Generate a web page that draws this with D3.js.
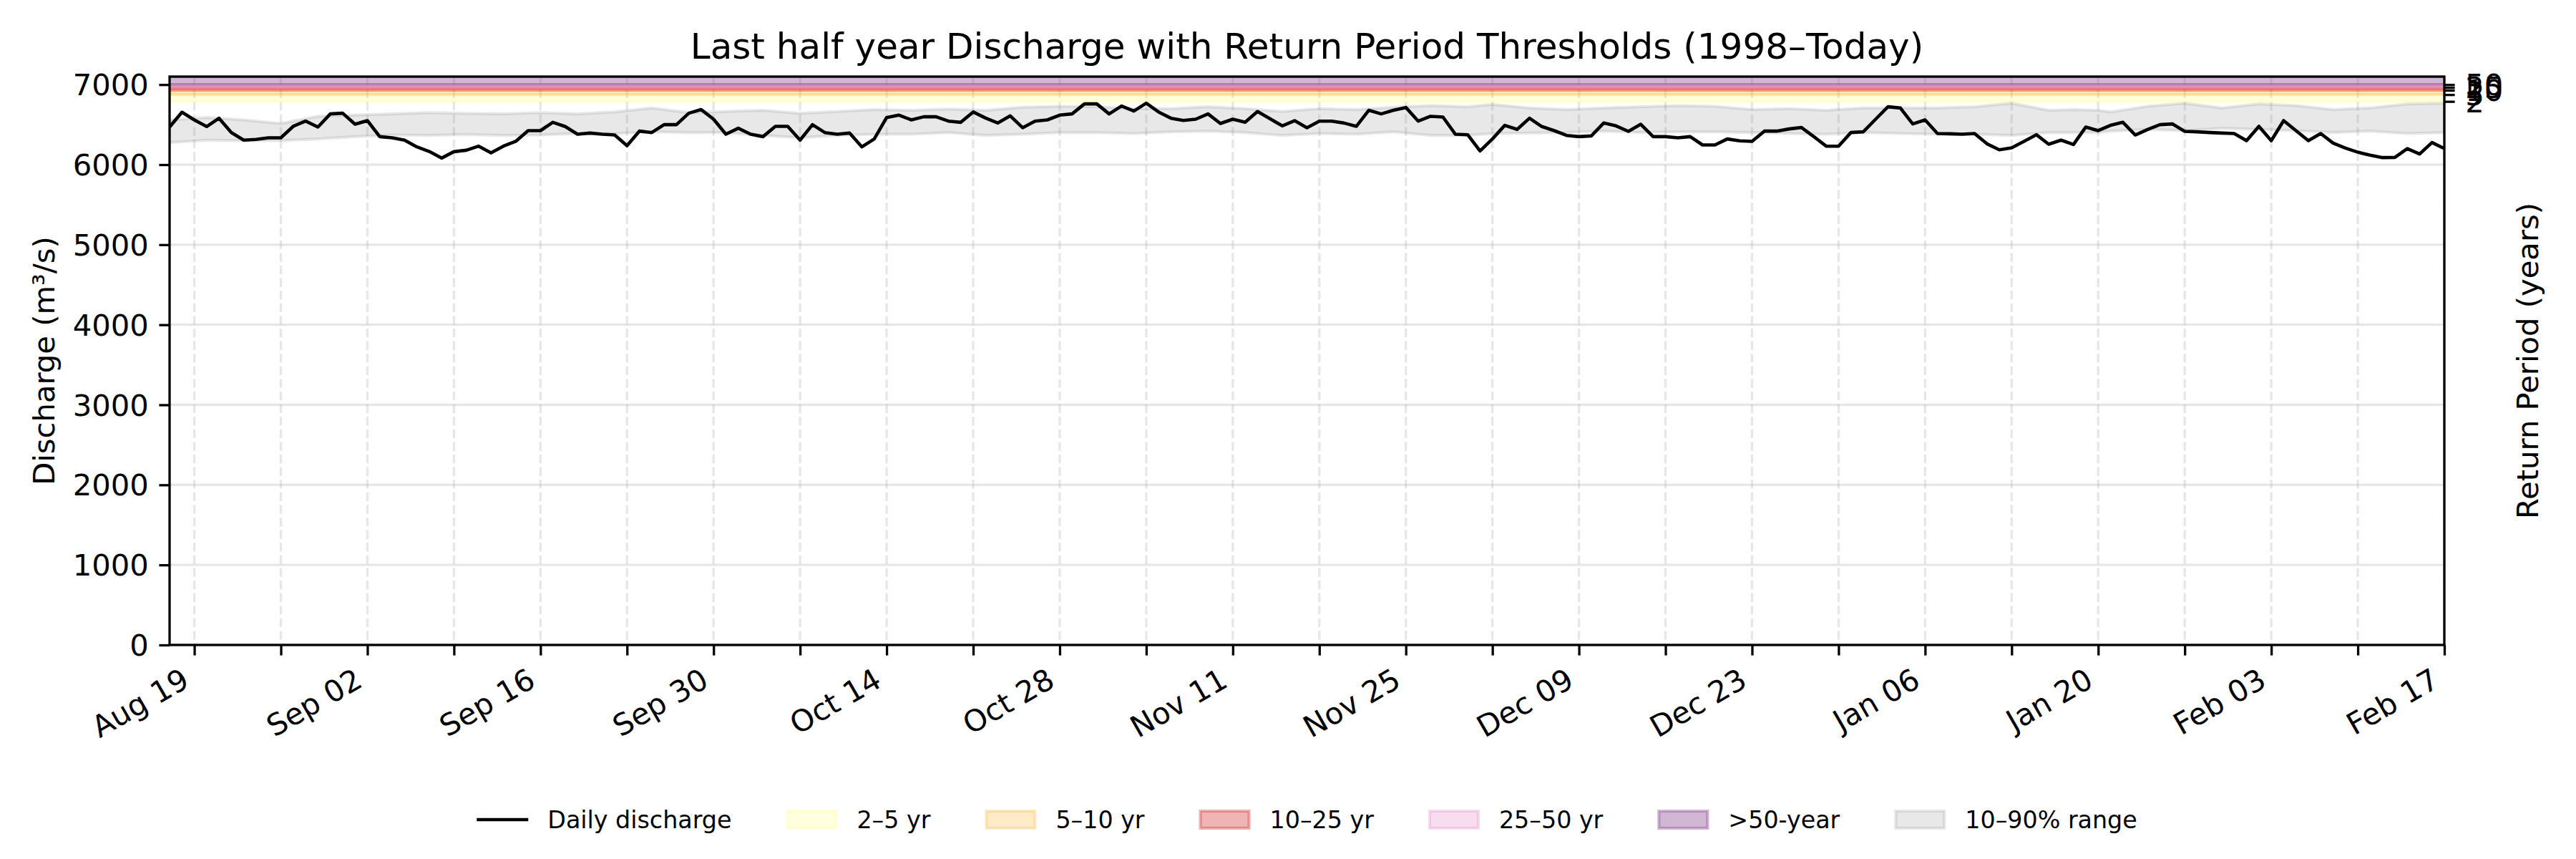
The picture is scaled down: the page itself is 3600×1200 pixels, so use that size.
<!DOCTYPE html>
<html>
<head>
<meta charset="utf-8">
<script src="https://cdn.jsdelivr.net/npm/d3@7"></script>
<style>
  body { margin: 0; background: #fff; }
  text { font-family: "DejaVu Sans", sans-serif; fill: #000; }
</style>
</head>
<body>
<svg id="chart" width="3600" height="1200"></svg>
<script>
//----------------
// Data
//----------------

const startDate = "2024-08-17";
const endDate = "2025-02-17";

// daily discharge, one value per day from startDate to endDate
const discharge = [
  6470, 6655, 6559, 6476, 6580, 6401, 6306, 6315, 6336, 6336, 6479, 6544, 6470, 6634, 6643, 6505, 6550,
  6350, 6336, 6306, 6222, 6165, 6082, 6162, 6180, 6231, 6147, 6231, 6291, 6425, 6425, 6529, 6476, 6380,
  6395, 6380, 6371, 6237, 6419, 6401, 6500, 6500, 6643, 6688, 6568, 6380, 6455, 6380, 6350, 6479, 6479,
  6306, 6500, 6401, 6380, 6395, 6222, 6321, 6589, 6619, 6559, 6598, 6598, 6544, 6529, 6658, 6583, 6520,
  6610, 6461, 6544, 6559, 6619, 6634, 6759, 6759, 6634, 6732, 6670, 6768, 6658, 6580, 6553, 6568, 6634,
  6514, 6568, 6529, 6664, 6574, 6485, 6550, 6461, 6544, 6544, 6520, 6479, 6679, 6634, 6679, 6714, 6544,
  6604, 6595, 6380, 6374, 6171, 6321, 6491, 6440, 6580, 6476, 6425, 6365, 6350, 6359, 6520, 6485, 6416,
  6505, 6350, 6350, 6336, 6350, 6246, 6246, 6321, 6297, 6291, 6419, 6419, 6446, 6464, 6350, 6231, 6231,
  6401, 6410, 6568, 6723, 6708, 6509, 6559, 6389, 6386, 6380, 6389, 6261, 6186, 6210, 6291, 6374, 6255,
  6306, 6252, 6470, 6425, 6491, 6529, 6371, 6440, 6500, 6509, 6416, 6410, 6401, 6395, 6389, 6300, 6479,
  6300, 6550, 6425, 6300, 6389, 6270, 6207, 6156, 6118, 6088, 6091, 6201, 6133, 6276, 6201
];

// 10-90% climatological range
const bandDates = [
  "2024-08-17", "2024-08-20", "2024-08-23", "2024-08-26", "2024-08-29", "2024-09-01", "2024-09-04",
  "2024-09-07", "2024-09-10", "2024-09-13", "2024-09-16", "2024-09-19", "2024-09-22", "2024-09-25",
  "2024-09-28", "2024-10-01", "2024-10-04", "2024-10-07", "2024-10-10", "2024-10-13", "2024-10-16",
  "2024-10-19", "2024-10-22", "2024-10-25", "2024-10-28", "2024-10-31", "2024-11-03", "2024-11-06",
  "2024-11-09", "2024-11-12", "2024-11-15", "2024-11-18", "2024-11-21", "2024-11-24", "2024-11-27",
  "2024-11-30", "2024-12-02", "2024-12-05", "2024-12-08", "2024-12-11", "2024-12-14", "2024-12-17",
  "2024-12-20", "2024-12-23", "2024-12-26", "2024-12-29", "2025-01-01", "2025-01-04", "2025-01-07",
  "2025-01-10", "2025-01-13", "2025-01-16", "2025-01-18", "2025-01-20", "2025-01-21", "2025-01-24",
  "2025-01-27", "2025-01-30", "2025-02-02", "2025-02-05", "2025-02-08", "2025-02-11", "2025-02-14",
  "2025-02-17"
];
const bandHigh = [
  6559, 6589, 6559, 6514, 6604, 6619, 6634, 6649, 6640, 6634, 6649, 6634, 6658, 6708, 6649, 6664, 6679,
  6640, 6664, 6688, 6679, 6694, 6679, 6717, 6729, 6723, 6700, 6700, 6723, 6700, 6664, 6700, 6688, 6717, 6738,
  6723, 6753, 6708, 6688, 6708, 6723, 6738, 6729, 6688, 6700, 6679, 6708, 6708, 6708, 6723, 6768, 6679, 6688,
  6679, 6658, 6729, 6768, 6708, 6759, 6738, 6688, 6708, 6759, 6768
];
const bandLow = [
  6276, 6306, 6300, 6300, 6321, 6350, 6371, 6365, 6377, 6365, 6371, 6389, 6389, 6410, 6401, 6401, 6365,
  6336, 6365, 6380, 6380, 6401, 6365, 6380, 6401, 6401, 6389, 6410, 6419, 6401, 6365, 6389, 6380, 6410, 6365,
  6365, 6389, 6395, 6401, 6419, 6401, 6410, 6410, 6401, 6389, 6380, 6401, 6389, 6380, 6380, 6365, 6401, 6401,
  6401, 6419, 6440, 6425, 6455, 6440, 6425, 6401, 6419, 6389, 6401
];

// return period thresholds
const returnPeriods = [2, 5, 10, 25, 50];
const thresholds = [6790, 6875, 6930, 6965, 7000];
const spanLabels = ["2–5 yr", "5–10 yr", "10–25 yr", "25–50 yr", ">50-year"];

const yTicks = [0, 1000, 2000, 3000, 4000, 5000, 6000, 7000];
const yMax = 7100;

//----------------
// Constants
//----------------

const plot = {left: 237, right: 3416, top: 107, bottom: 901};
const tickLen = 14.6, tickPad = 14.6;
const fontTick = 41.7, fontTitle = 50, fontLegend = 33.3;
const spanStyle = [
  {color: "#ffff00", alpha: 0.12},
  {color: "#ffa500", alpha: 0.22},
  {color: "#d62728", alpha: 0.35},
  {color: "#e377c2", alpha: 0.25},
  {color: "#8e4a96", alpha: 0.40}
];
const bandStyle = {color: "#808080", alpha: 0.18};

//----------------
// Draw
//----------------

const parse = d3.utcParse("%Y-%m-%d");
const days = d3.utcDay.range(parse(startDate), d3.utcDay.offset(parse(endDate), 1));
const series = days.map((d, i) => ({date: d, value: discharge[i]}));
const band = bandDates.map((d, i) => ({date: parse(d), lo: bandLow[i], hi: bandHigh[i]}));

const x = d3.scaleUtc()
  .domain([parse(startDate), parse(endDate)])
  .range([plot.left, plot.right]);
const y = d3.scaleLinear()
  .domain([0, yMax])
  .range([plot.bottom, plot.top]);

const svg = d3.select("#chart");
svg.append("rect").attr("width", 3600).attr("height", 1200).attr("fill", "#fff");

svg.append("clipPath").attr("id", "clip")
  .append("rect")
  .attr("x", plot.left).attr("y", plot.top)
  .attr("width", plot.right - plot.left).attr("height", plot.bottom - plot.top);

const weekTicks = d3.utcMonday.range(parse(startDate), d3.utcDay.offset(parse(endDate), 1));

// grid
const grid = svg.append("g").attr("clip-path", "url(#clip)");
grid.selectAll(".hgrid").data(yTicks).enter().append("line")
  .attr("x1", plot.left).attr("x2", plot.right)
  .attr("y1", d => y(d)).attr("y2", d => y(d))
  .attr("stroke", "#b0b0b0").attr("stroke-opacity", 0.3).attr("stroke-width", 3.3);
grid.selectAll(".vgrid").data(weekTicks).enter().append("line")
  .attr("x1", d => x(d)).attr("x2", d => x(d))
  .attr("y1", plot.top).attr("y2", plot.bottom)
  .attr("stroke", "#b0b0b0").attr("stroke-opacity", 0.3).attr("stroke-width", 3.3)
  .attr("stroke-dasharray", "12.3,5.3");

// return period spans
const spans = svg.append("g").attr("clip-path", "url(#clip)");
thresholds.forEach((t, i) => {
  const top = i < thresholds.length - 1 ? thresholds[i + 1] : yMax;
  spans.append("rect")
    .attr("x", plot.left - 10).attr("width", plot.right - plot.left + 20)
    .attr("y", y(top)).attr("height", y(t) - y(top))
    .attr("fill", spanStyle[i].color).attr("fill-opacity", spanStyle[i].alpha)
    .attr("stroke", spanStyle[i].color).attr("stroke-opacity", spanStyle[i].alpha)
    .attr("stroke-width", 4.2);
});

// 10-90% band
const area = d3.area()
  .x(d => x(d.date))
  .y0(d => y(d.lo))
  .y1(d => y(d.hi));
svg.append("path").datum(band)
  .attr("clip-path", "url(#clip)")
  .attr("d", area)
  .attr("fill", bandStyle.color).attr("fill-opacity", bandStyle.alpha)
  .attr("stroke", bandStyle.color).attr("stroke-opacity", bandStyle.alpha)
  .attr("stroke-width", 4.2);

// discharge line
const line = d3.line().x(d => x(d.date)).y(d => y(d.value));
svg.append("path").datum(series)
  .attr("clip-path", "url(#clip)")
  .attr("d", line)
  .attr("fill", "none").attr("stroke", "#000")
  .attr("stroke-width", 4.6).attr("stroke-linejoin", "round");

// x axis
const fmt = d3.utcFormat("%b %d");
const xAxis = svg.append("g")
  .attr("transform", "translate(0," + plot.bottom + ")")
  .call(d3.axisBottom(x).tickValues(weekTicks).tickSize(tickLen).tickSizeOuter(0)
    .tickFormat((d, i) => i % 2 ? "" : fmt(d)));
xAxis.select(".domain").remove();
xAxis.selectAll(".tick line").attr("stroke", "#000").attr("stroke-width", 3.3);
xAxis.selectAll(".tick text")
  .attr("font-size", fontTick)
  .attr("text-anchor", "end")
  .attr("y", null).attr("dy", null)
  .attr("transform", "translate(-5," + (tickLen + tickPad + 27.5) + ") rotate(-30)");

// left y axis
const yAxis = svg.append("g")
  .attr("transform", "translate(" + plot.left + ",0)")
  .call(d3.axisLeft(y).tickValues(yTicks).tickSize(tickLen).tickSizeOuter(0).tickPadding(tickPad)
    .tickFormat(d3.format("d")));
yAxis.select(".domain").remove();
yAxis.selectAll(".tick line").attr("stroke", "#000").attr("stroke-width", 3.3);
yAxis.selectAll(".tick text").attr("font-size", fontTick).attr("dy", "0.35em");

// right axis for return periods
const rAxis = svg.append("g")
  .attr("transform", "translate(" + plot.right + ",0)")
  .call(d3.axisRight(y).tickValues(thresholds).tickSize(tickLen).tickSizeOuter(0).tickPadding(tickPad)
    .tickFormat((d, i) => returnPeriods[i]));
rAxis.select(".domain").remove();
rAxis.selectAll(".tick line").attr("stroke", "#000").attr("stroke-width", 3.3);
rAxis.selectAll(".tick text").attr("font-size", fontTick).attr("dy", "0.35em");

// spines
svg.append("rect")
  .attr("x", plot.left).attr("y", plot.top)
  .attr("width", plot.right - plot.left).attr("height", plot.bottom - plot.top)
  .attr("fill", "none").attr("stroke", "#000").attr("stroke-width", 3.3);

// labels
const midY = (plot.top + plot.bottom) / 2;
const midX = (plot.left + plot.right) / 2;
svg.append("text")
  .attr("transform", "translate(76," + midY + ") rotate(-90)")
  .attr("text-anchor", "middle").attr("font-size", fontTick)
  .text("Discharge (m³/s)");
svg.append("text")
  .attr("transform", "translate(3547," + midY + ") rotate(-90)")
  .attr("text-anchor", "middle").attr("font-size", fontTick)
  .text("Return Period (years)");
svg.append("text")
  .attr("x", midX).attr("y", plot.top - 25)
  .attr("text-anchor", "middle").attr("font-size", fontTitle)
  .text("Last half year Discharge with Return Period Thresholds (1998–Today)");

// legend
const legendItems = [{type: "line", label: "Daily discharge"}]
  .concat(spanLabels.map((l, i) => ({type: "patch", label: l, style: spanStyle[i]})))
  .concat([{type: "patch", label: "10–90% range", style: bandStyle}]);

const legend = svg.append("g");
const handleW = 72, handleH = 28, textPad = 27, colGap = 76, legendY = 1145;
let cursor = 0;
legendItems.forEach(item => {
  const g = legend.append("g").attr("transform", "translate(" + cursor + ",0)");
  if (item.type === "line") {
    g.append("line").attr("x1", 0).attr("x2", handleW).attr("y1", 0).attr("y2", 0)
      .attr("stroke", "#000").attr("stroke-width", 4.6);
  } else {
    g.append("rect").attr("x", 2).attr("y", -handleH / 2 + 2)
      .attr("width", handleW - 4).attr("height", handleH - 4)
      .attr("fill", item.style.color).attr("fill-opacity", item.style.alpha)
      .attr("stroke", item.style.color).attr("stroke-opacity", item.style.alpha)
      .attr("stroke-width", 4.2);
  }
  const t = g.append("text").attr("x", handleW + textPad).attr("y", 0).attr("dy", "0.35em")
    .attr("font-size", fontLegend).text(item.label);
  cursor += handleW + textPad + t.node().getComputedTextLength() + colGap;
});
const legendW = cursor - colGap;
legend.attr("transform", "translate(" + (midX - legendW / 2) + "," + legendY + ")");
</script>
</body>
</html>
